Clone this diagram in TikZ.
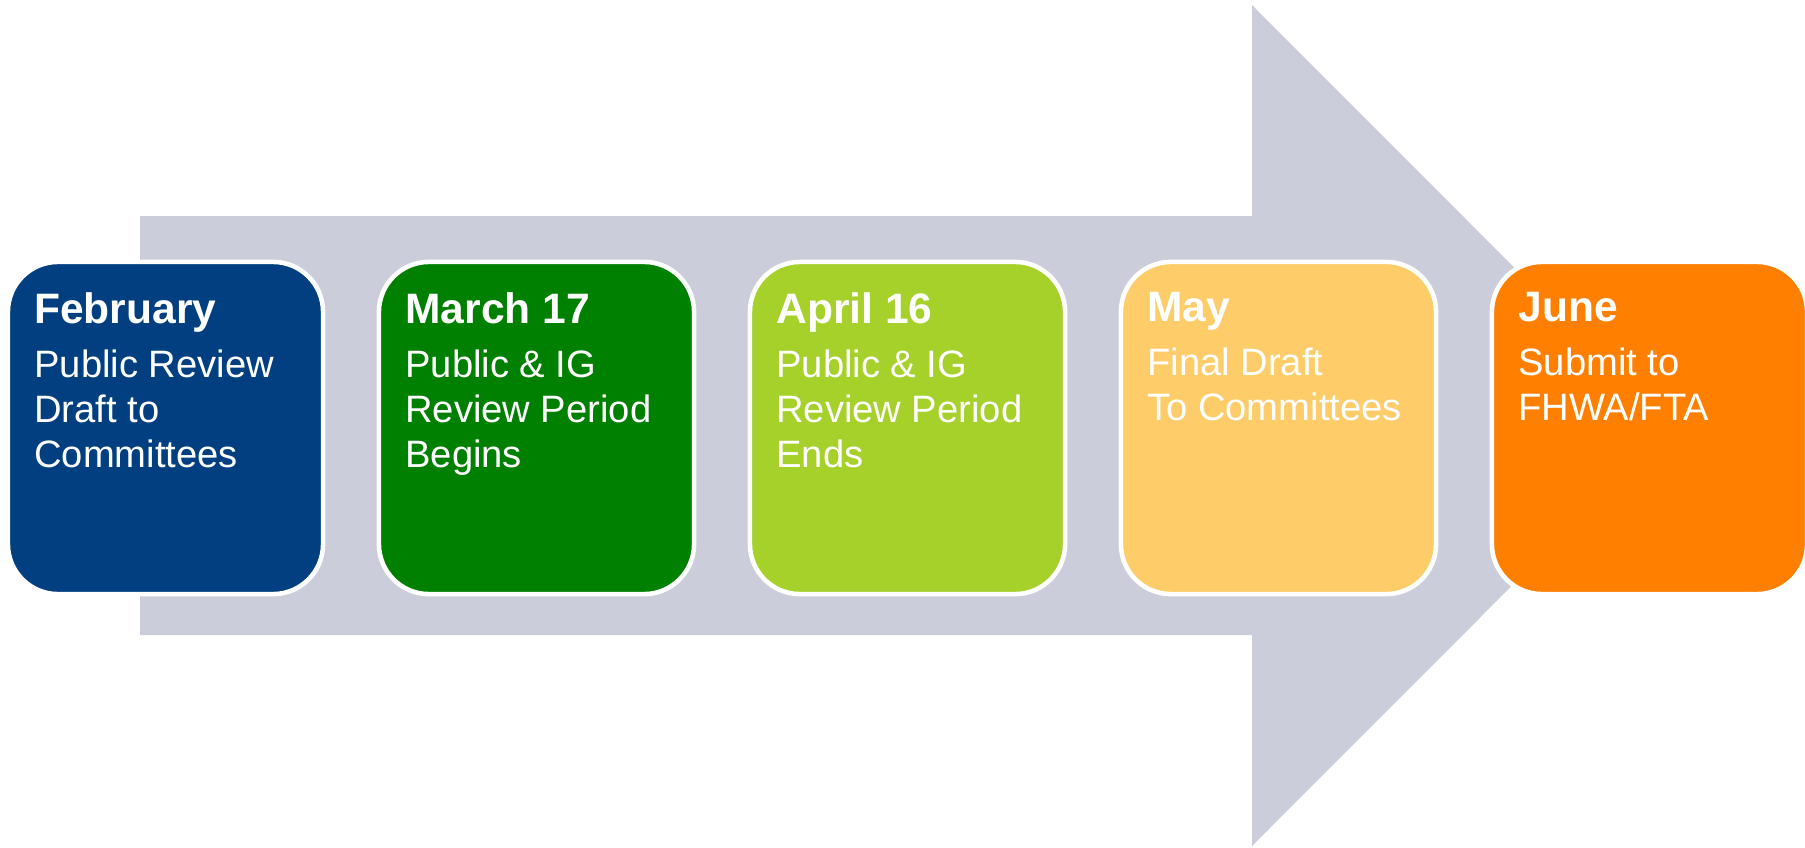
\documentclass[tikz,border=0pt]{standalone}
\usepackage{fontspec}
\setmainfont{Liberation Sans}
\usetikzlibrary{positioning}

\definecolor{shaftgray}{RGB}{203,206,218}
\definecolor{febblue}{RGB}{2,63,128}
\definecolor{margreen}{RGB}{0,128,0}
\definecolor{aprgreen}{RGB}{166,208,42}
\definecolor{mayyellow}{RGB}{254,204,104}
\definecolor{junorange}{RGB}{255,128,0}

\begin{document}
\begin{tikzpicture}[x=0.01cm,y=0.01cm,
    stage/.style={rectangle,rounded corners=0.5cm,draw=white,line width=1.3pt,
        minimum width=3.15cm,minimum height=3.32cm,inner sep=0pt},
    stagetext/.style={inner sep=0pt,align=left,text=white,
        font=\fontsize{10.85}{12.8}\selectfont}]
\useasboundingbox (0,0) rectangle (1805,847);
\clip (0,0) rectangle (1805,847);
% big arrow behind the stages
\fill[shaftgray] (140,631) -- (1252,631) -- (1252,842) -- (1672,421.5)
    -- (1252,1) -- (1252,212) -- (140,212) -- cycle;
\foreach \col/\head/\body [count=\i] in {
    febblue/February/{Public Review\\Draft to\\Committees},
    margreen/March 17/{Public \& IG\\Review Period\\Begins},
    aprgreen/April 16/{Public \& IG\\Review Period\\Ends},
    mayyellow/May/{Final Draft\\To Committees},
    junorange/June/{Submit to\\FHWA/FTA}}
{
\node[stage,fill=\col] (s\i) at ({165.5+371*(\i-1)},419) {};
\node[stagetext,anchor=north west,below right=0.32cm and 0.28cm of s\i.north west] (t\i)
    {{\fontsize{12.1}{12.8}\selectfont\bfseries \head}\\[2.6pt]\body};
}
\end{tikzpicture}
\end{document}
